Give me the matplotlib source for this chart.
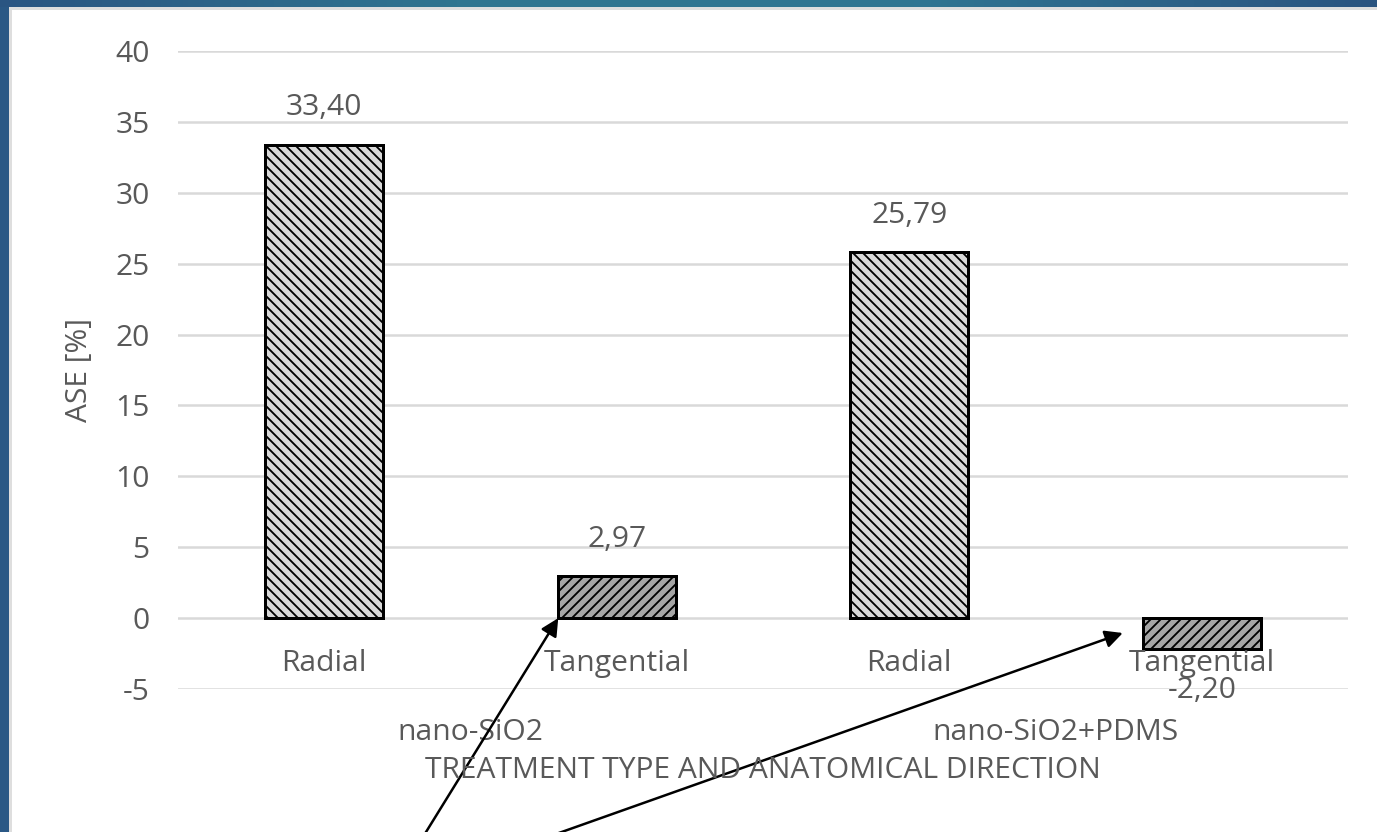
import numpy as np
import matplotlib
matplotlib.use("Agg")
import matplotlib.pyplot as plt
from matplotlib.patches import Rectangle
from matplotlib.colors import LinearSegmentedColormap
from matplotlib.transforms import blended_transform_factory

# Data
directions = ["Radial", "Tangential", "Radial", "Tangential"]
treatments = ["nano-SiO2", "nano-SiO2+PDMS"]
ase_values = [33.40, 2.97, 25.79, -2.20]
value_labels = ["33,40", "2,97", "25,79", "-2,20"]
y_ticks = [-5, 0, 5, 10, 15, 20, 25, 30, 35, 40]

W, H, DPI = 1377, 832, 120
plt.rcParams["font.family"] = ["Open Sans", "DejaVu Sans"]
plt.rcParams["hatch.linewidth"] = 1.1
plt.rcParams["axes.unicode_minus"] = False

fig = plt.figure(figsize=(W / DPI, H / DPI), dpi=DPI)
fig.patch.set_facecolor("white")

# Decorative blue frame on the left and top
frame_cmap = LinearSegmentedColormap.from_list(
    "frame", ["#2a5582", "#2f7590", "#2f7592", "#2a5480"])
top = fig.add_axes([0, 1 - 7 / H, 1, 7 / H])
top.imshow(np.linspace(0, 1, 256)[None, :], aspect="auto", cmap=frame_cmap)
top.axis("off")
fig.patches.append(Rectangle((0, 0), 9 / W, 1 - 7 / H, transform=fig.transFigure,
                             facecolor="#2a5885", edgecolor="none", zorder=5))
fig.patches.append(Rectangle((9 / W, 0), 3 / W, 1 - 7 / H, transform=fig.transFigure,
                             facecolor="#dedede", edgecolor="none", zorder=5))
fig.patches.append(Rectangle((9 / W, 1 - 10 / H), 1 - 9 / W, 3 / H, transform=fig.transFigure,
                             facecolor="#dedede", edgecolor="none", zorder=5))

ax = fig.add_axes([178 / W, 1 - 689 / H, (1348 - 178) / W, (689 - 51) / H])
ax.set_ylim(-5, 40)
ax.set_xlim(-0.5, 3.5)
ax.set_yticks(y_ticks)
ax.yaxis.grid(True, color="#d9d9d9", linewidth=1.5)
ax.set_axisbelow(True)
for s in ax.spines.values():
    s.set_visible(False)

text_color = "#595959"
fs = 18
ax.tick_params(axis="y", length=0, pad=17, labelsize=fs, labelcolor=text_color)

x = np.arange(len(directions))
fills = ["#d9d9d9", "#a6a6a6", "#d9d9d9", "#a6a6a6"]
hatches = ["\\\\\\\\", "////", "\\\\\\\\", "////"]
bars = ax.bar(x, ase_values, width=0.404, color=fills, edgecolor="black",
              linewidth=1.8, zorder=3)
for b, h in zip(bars, hatches):
    b.set_hatch(h)

# Direction labels sit just under the zero line
ax.set_xticks([])
for xi, name in zip(x, directions):
    ax.annotate(name, (xi, 0), xytext=(0, -45), textcoords="offset pixels",
                ha="center", va="center", fontsize=fs, color=text_color,
                annotation_clip=False)

# Value labels at the outer end of each bar
for xi, v, lab in zip(x, ase_values, value_labels):
    off = 37 if v >= 0 else -41
    ax.annotate(lab, (xi, v), xytext=(0, off), textcoords="offset pixels",
                ha="center", va="center", fontsize=fs, color=text_color,
                zorder=4)

# Treatment group labels and axis titles
trans = blended_transform_factory(ax.transData, fig.transFigure)
for gi, name in enumerate(treatments):
    ax.text(2 * gi + 0.5, 1 - 733 / H, name, transform=trans, ha="center",
            va="center", fontsize=fs, color=text_color)
fig.text((178 + 1348) / 2 / W, 1 - 770 / H, "TREATMENT TYPE AND ANATOMICAL DIRECTION",
         ha="center", va="center", fontsize=fs, color=text_color)
fig.text(80 / W, 1 - 370 / H, "ASE [%]", rotation=90, ha="center", va="center",
         fontsize=fs, color=text_color)

# Pointer arrows toward the tangential bars
arrow_targets = [(1 - 0.2, 0.0), (2.73, -1.05)]
arrow_tails = [(425 / W, -0.002), (557 / W, -0.002)]
for tgt, tail in zip(arrow_targets, arrow_tails):
    ax.annotate("", xy=tgt, xycoords="data", xytext=tail, textcoords="figure fraction",
                arrowprops=dict(arrowstyle="-|>", color="black", lw=1.5,
                                mutation_scale=22, shrinkA=0, shrinkB=0),
                annotation_clip=False, zorder=6)

fig.savefig("out.png", dpi=DPI)
